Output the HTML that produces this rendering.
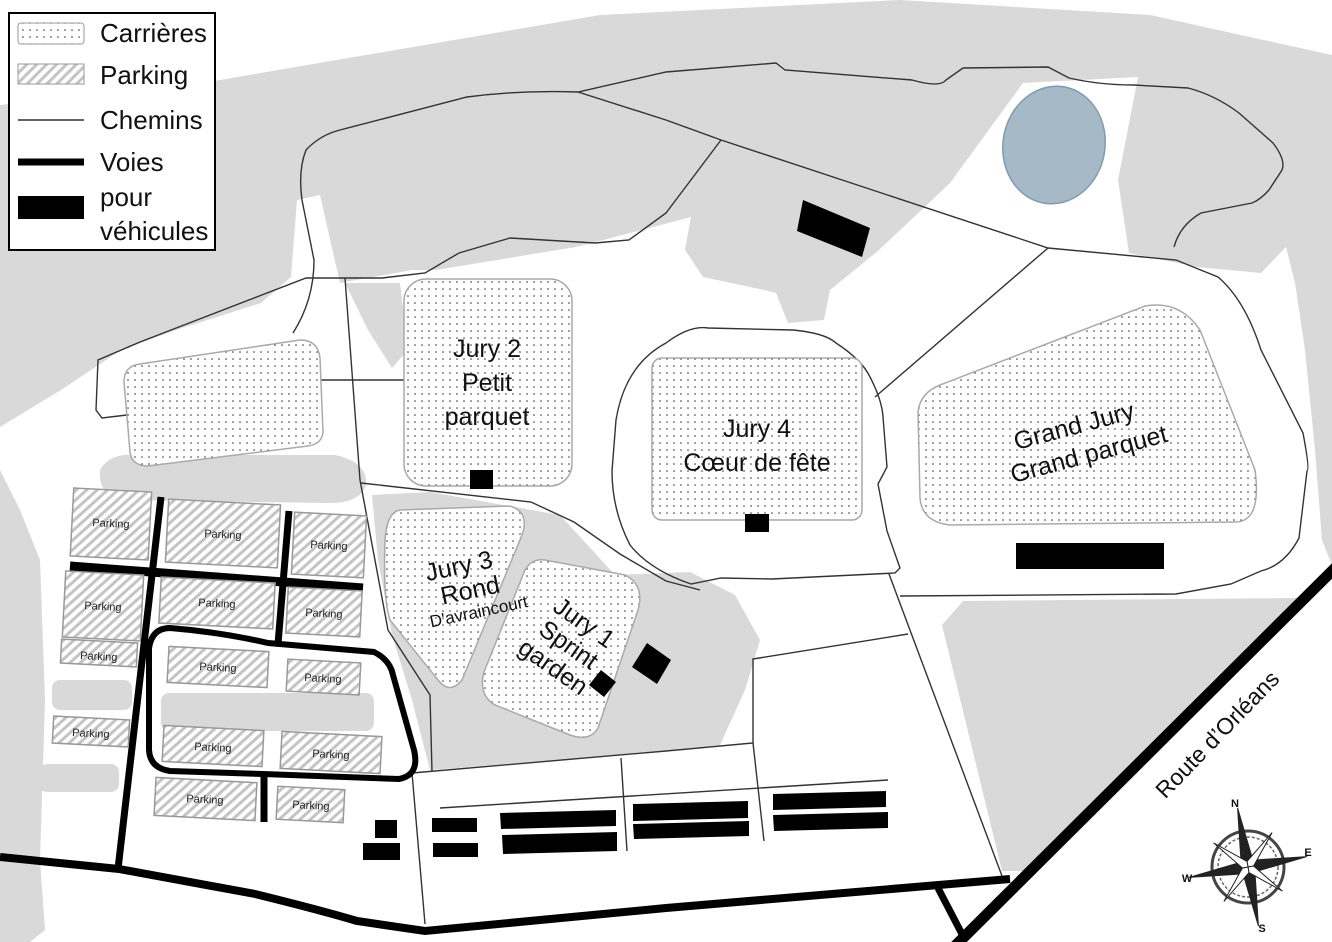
<!DOCTYPE html>
<html><head><meta charset="utf-8"><style>
html,body{margin:0;padding:0;background:#fff}
svg{display:block}
text{font-family:"Liberation Sans Narrow","Liberation Sans",sans-serif}
</style></head><body>
<svg width="1332" height="942" viewBox="0 0 1332 942" xmlns="http://www.w3.org/2000/svg">
<defs>
<pattern id="dots" width="7" height="7" patternUnits="userSpaceOnUse"><rect width="7" height="7" fill="#fff"/><circle cx="2" cy="2" r="0.8" fill="#333"/></pattern>
<pattern id="hatch" width="7" height="7" patternUnits="userSpaceOnUse" patternTransform="rotate(45)"><rect width="7" height="7" fill="#fff"/><rect width="3" height="7" fill="#c4c4c4"/></pattern>
</defs>
<rect width="1332" height="942" fill="#d9d9d9"/>
<polygon fill="#fff" points="0,0 1332,0 1332,55 1150,15 900,0 600,15 220,80 0,105"/>
<polygon fill="#fff" points="0,427 61,390 121,350 176,330 261,303 291,277 297,200 320,195 340,283 412,270 436,270 576,247 642,230 691,217 685,250 703,277 764,290 776,293 788,323 824,320 830,290 879,250 950,183 1023,83 1138,77 1118,180 1129,253 1197,267 1261,273 1286,247 1295,283 1305,350 1315,450 1322,540 1332,565 1332,942 0,942"/>
<polygon fill="#d9d9d9" points="345,283 400,283 408,350 392,368 368,330"/>
<polygon fill="#d9d9d9" points="0,470 20,510 40,560 45,700 40,860 45,930 30,942 0,942"/>
<path fill="#d9d9d9" d="M100,470 Q110,452 140,455 L335,455 Q368,462 366,485 Q360,503 330,503 L115,500 Q98,490 100,470Z"/>
<rect x="52" y="680" width="80" height="30" rx="8" fill="#d9d9d9"/>
<rect x="39" y="764" width="80" height="28" rx="8" fill="#d9d9d9"/>
<rect x="161" y="693" width="213" height="38" rx="8" fill="#d9d9d9"/>
<path fill="#d9d9d9" d="M372,495 L430,492 L560,515 L615,575 L690,572 L735,595 L760,640 L745,690 L720,745 L560,760 L430,770 L412,700 L392,635 L378,560Z"/>
<polygon fill="#d9d9d9" points="942,625 963,601 1300,598 1332,578 1332,571 1030,871 1002,871"/>
<g fill="none" stroke="#333" stroke-width="1.4">
<path d="M293,333 Q314,300 314,260 L302,200 Q298,170 306,150 Q320,135 340,130 L467,97 Q520,90 578,92 L666,72 L776,63 L785,70 L912,80 Q940,88 946,80 L963,68 L1048,67 L1069,78 Q1100,85 1133,85 L1188,88 Q1215,95 1239,113 L1273,143 Q1286,160 1282,170 L1269,190 Q1260,200 1252,203 L1201,213 Q1180,225 1174,247"/>
<path d="M127,415 L102,418 L96,410 L98,360 L140,342 L306,278 L382,278 L425,273 L459,253 L510,238 L595,243 L629,240 L666,213 L721,140"/>
<path d="M578,92 L666,120 L721,140 L1048,248 L1176,260 L1218,277 Q1245,300 1261,350 L1303,433 Q1310,470 1307,471 L1299,538 Q1285,565 1261,571 L1231,584 L1176,594 L900,596"/>
<path d="M1048,248 L875,397"/>
<path d="M666,343 Q690,325 708,328 L793,330 Q825,333 836,343 Q862,360 870,377 Q882,400 883,417 L887,467 L878,484 L887,531 L900,568 L895,573 L772,579 L721,578 L691,584 Q650,570 630,545 Q612,510 612,471 L616,420 Q625,365 666,343"/>
<path d="M889,574 L1002,876"/>
<path d="M320,380 L405,380"/>
<path d="M361,483 L531,502 L574,522 L620,554 L666,581 L700,590"/>
<path d="M345,278 L360,480 L388,630 L430,695 L432,772"/>
<path d="M412,773 L666,751 L753,743 L753,659 L908,634"/>
<path d="M753,743 L764,841"/>
<path d="M412,773 L425,924"/>
<path d="M621,758 L627,851"/>
<path d="M440,808 L888,780"/>
</g>
<g fill="#000">
<path d="M0,857 L119,869 L255,894 Q320,910 357,921 L425,931 L666,908 L1010,879" fill="none" stroke="#000" stroke-width="8"/>
<path d="M938,888 L963,936" fill="none" stroke="#000" stroke-width="7"/>
<path d="M1336,567 L955,946" fill="none" stroke="#000" stroke-width="11"/>
<path d="M161,497 L118,869" fill="none" stroke="#000" stroke-width="7"/>
<path d="M70,566 L363,588" fill="none" stroke="#000" stroke-width="9"/>
<path d="M289,511 L278,644" fill="none" stroke="#000" stroke-width="7"/>
<path d="M170,628 Q220,632 268,643 L374,652 Q390,660 393,675 L414,750 Q420,775 399,779 L263,774 L170,771 Q150,768 149,750 L149,648 Q152,628 170,628Z" fill="none" stroke="#000" stroke-width="6"/>
<path d="M264,776 L264,822" fill="none" stroke="#000" stroke-width="7"/>
</g>
<g stroke="#999" stroke-width="1.5" fill="url(#hatch)">
<g transform="rotate(3 111 523)"><rect x="72" y="490" width="78" height="68"/></g>
<g transform="rotate(3 223 533)"><rect x="167" y="502" width="112" height="63"/></g>
<g transform="rotate(3 329 545)"><rect x="293" y="514" width="72" height="62"/></g>
<g transform="rotate(3 103 606)"><rect x="64" y="573" width="78" height="66"/></g>
<g transform="rotate(3 217 603)"><rect x="160" y="580" width="114" height="46"/></g>
<g transform="rotate(3 324 612)"><rect x="287" y="589" width="74" height="46"/></g>
<g transform="rotate(3 99 653)"><rect x="61" y="641" width="76" height="24"/></g>
<g transform="rotate(3 218 667)"><rect x="168" y="649" width="100" height="36"/></g>
<g transform="rotate(3 323 677)"><rect x="287" y="661" width="73" height="32"/></g>
<g transform="rotate(3 91 731)"><rect x="53" y="718" width="76" height="27"/></g>
<g transform="rotate(3 213 746)"><rect x="163" y="728" width="100" height="36"/></g>
<g transform="rotate(3 331 753)"><rect x="281" y="734" width="100" height="37"/></g>
<g transform="rotate(3 205 799)"><rect x="155" y="780" width="101" height="38"/></g>
<g transform="rotate(3 311 804)"><rect x="277" y="788" width="67" height="33"/></g>
</g>
<g font-size="11" fill="#222" text-anchor="middle">
<text x="111" y="527" transform="rotate(3 111 523)">Parking</text>
<text x="223" y="538" transform="rotate(3 223 533)">Parking</text>
<text x="329" y="549" transform="rotate(3 329 545)">Parking</text>
<text x="103" y="610" transform="rotate(3 103 606)">Parking</text>
<text x="217" y="607" transform="rotate(3 217 603)">Parking</text>
<text x="324" y="617" transform="rotate(3 324 612)">Parking</text>
<text x="99" y="660" transform="rotate(3 99 653)">Parking</text>
<text x="218" y="671" transform="rotate(3 218 667)">Parking</text>
<text x="323" y="682" transform="rotate(3 323 677)">Parking</text>
<text x="91" y="737" transform="rotate(3 91 731)">Parking</text>
<text x="213" y="751" transform="rotate(3 213 746)">Parking</text>
<text x="331" y="758" transform="rotate(3 331 753)">Parking</text>
<text x="205" y="803" transform="rotate(3 205 799)">Parking</text>
<text x="311" y="809" transform="rotate(3 311 804)">Parking</text>
</g>
<g fill="url(#dots)" stroke="#aaa" stroke-width="1.5">
<path d="M140,364 L300,340 Q318,340 320,358 L323,432 Q322,444 308,446 L148,466 Q132,466 130,452 L124,382 Q124,366 140,364Z"/>
<rect x="404" y="279" width="168" height="207" rx="22"/>
<rect x="652" y="358" width="210" height="162" rx="10"/>
<path d="M940,385 L1145,306 Q1180,300 1200,330 L1255,470 Q1262,522 1235,522 L950,525 Q922,522 920,498 L918,412 Q920,393 940,385Z"/>
<path d="M400,510 L510,506 Q530,512 522,535 L462,680 Q450,695 438,680 L390,620 Q383,600 385,540 Q387,512 400,510Z"/>
<path d="M545,560 L625,575 Q645,585 638,610 L598,728 Q590,742 570,735 L495,705 Q478,695 484,672 L525,570 Q532,558 545,560Z"/>
</g>
<ellipse cx="1054" cy="145" rx="51" ry="59" transform="rotate(10 1054 145)" fill="#a5bac6" stroke="#7f9bb0" stroke-width="1.5"/>
<g fill="#000">
<polygon points="803,200 870,228 862,257 797,231"/>
<rect x="470" y="470" width="23" height="19"/>
<rect x="745" y="514" width="24" height="18"/>
<rect x="1016" y="543" width="148" height="26"/>
<polygon points="647,643 671,660 657,684 632,667"/>
<polygon points="601,670 616,682 604,697 589,685"/>
<rect x="375" y="820" width="22" height="18"/>
<rect x="363" y="843" width="37" height="17"/>
<rect x="432" y="818" width="45" height="14"/>
<rect x="433" y="843" width="45" height="14"/>
<polygon points="500,813 616,810 616,826 501,829"/>
<polygon points="502,835 617,832 617,851 503,854"/>
<polygon points="633,804 748,801 748,818 633,821"/>
<polygon points="633,824 749,821 749,836 634,839"/>
<polygon points="773,794 886,791 886,807 773,810"/>
<polygon points="773,815 888,812 888,828 774,831"/>
</g>
<g font-size="25" fill="#111" text-anchor="middle">
<text x="487" y="357">Jury 2</text>
<text x="487" y="391">Petit</text>
<text x="487" y="425">parquet</text>
<text x="757" y="437">Jury 4</text>
<text x="757" y="471">Cœur de fête</text>
<g transform="rotate(-15 1085 440)"><text x="1078" y="432">Grand Jury</text><text x="1085" y="463">Grand parquet</text></g>
<g transform="rotate(-12 468 590)"><text x="464" y="573">Jury 3</text><text x="470" y="599">Rond</text><text x="474" y="619" font-size="17">D'avraincourt</text></g>
<g transform="rotate(35 565 650)"><text x="565" y="625">Jury 1</text><text x="565" y="652">Sprint</text><text x="565" y="679">garden</text></g>
</g>
<text x="1218" y="742" font-size="23" fill="#111" text-anchor="middle" transform="rotate(-46 1218 735)">Route d’Orléans</text>
<g transform="translate(1248,867)">
<circle r="36" fill="none" stroke="#444" stroke-width="3"/>
<circle r="30" fill="none" stroke="#666" stroke-width="1.5" stroke-dasharray="3 2"/>
<g fill="#222" stroke="#222" stroke-width="1">
<polygon points="0,-60 6,-6 0,0 -6,-6" transform="rotate(-10)"/>
<polygon points="0,-60 6,-6 0,0 -6,-6" transform="rotate(80)"/>
<polygon points="0,-60 6,-6 0,0 -6,-6" transform="rotate(170)"/>
<polygon points="0,-60 6,-6 0,0 -6,-6" transform="rotate(260)"/>
<polygon points="0,-42 4,-4 0,0 -4,-4" transform="rotate(35)" fill="#fff"/>
<polygon points="0,-42 4,-4 0,0 -4,-4" transform="rotate(125)" fill="#fff"/>
<polygon points="0,-42 4,-4 0,0 -4,-4" transform="rotate(215)" fill="#fff"/>
<polygon points="0,-42 4,-4 0,0 -4,-4" transform="rotate(305)" fill="#fff"/>
</g>
<g font-family="Liberation Serif,serif" font-weight="bold" font-size="11" fill="#111" text-anchor="middle">
<text x="-13" y="-60">N</text><text x="60" y="-11">E</text><text x="-61" y="15">W</text><text x="14" y="65">S</text>
</g>
</g>
<rect x="9" y="13" width="206" height="237" fill="#fff" stroke="#000" stroke-width="2"/>
<rect x="18" y="23" width="66" height="21" rx="3" fill="url(#dots)" stroke="#999"/>
<rect x="18" y="64" width="66" height="20" fill="url(#hatch)" stroke="#999"/>
<line x1="18" y1="120" x2="84" y2="120" stroke="#333" stroke-width="1.5"/>
<line x1="18" y1="162" x2="84" y2="162" stroke="#000" stroke-width="7"/>
<rect x="18" y="196" width="66" height="23" fill="#000"/>
<g font-size="26" fill="#111">
<text x="100" y="42">Carrières</text>
<text x="100" y="84">Parking</text>
<text x="100" y="129">Chemins</text>
<text x="100" y="171">Voies</text>
<text x="100" y="206">pour</text>
<text x="100" y="240">véhicules</text>
</g>
</svg>
</body></html>
